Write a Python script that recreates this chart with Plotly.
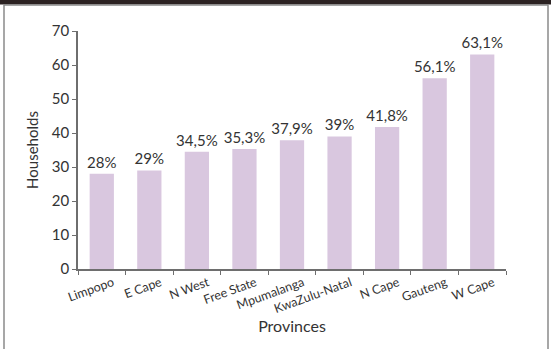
import plotly.graph_objects as go

provinces = ["Limpopo", "E Cape", "N West", "Free State", "Mpumalanga",
             "KwaZulu-Natal", "N Cape", "Gauteng", "W Cape"]
households = [28, 29, 34.5, 35.3, 37.9, 39, 41.8, 56.1, 63.1]
labels = ["28%", "29%", "34,5%", "35,3%", "37,9%", "39%", "41,8%", "56,1%", "63,1%"]

W, H = 551, 349
L, R, T, B = 78, 45, 31, 80
pw, ph = W - L - R, H - T - B

def px(x):
    return (x - L) / pw

def py(y):
    return (H - B - y) / ph

FONT = "Lato"
TXT = "#333333"
AX = "#6e6e6e"

fig = go.Figure(go.Bar(
    x=provinces, y=households, text=labels, textposition="outside",
    textfont=dict(size=15, color=TXT, family=FONT),
    constraintext="none",
    marker=dict(color="#d9c7df", line=dict(width=0)),
    cliponaxis=False, width=0.51,
))

fig.update_layout(
    width=W, height=H,
    margin=dict(l=L, r=R, t=T, b=B, pad=0, autoexpand=False),
    paper_bgcolor="white", plot_bgcolor="white",
    showlegend=False,
    font=dict(family=FONT, color=TXT, size=13),
    xaxis=dict(
        automargin=False,
        tickangle=-20, tickson="boundaries", ticks="outside", ticklen=4,
        tickcolor=AX, showline=True, linecolor=AX, linewidth=1.5,
        tickfont=dict(size=12.5, color=TXT),
        ticklabelshift=11, ticklabelstandoff=0,
        title=dict(text="Provinces", font=dict(size=16, color=TXT), standoff=4),
        showgrid=False,
    ),
    yaxis=dict(
        automargin=False,
        range=[0, 70], dtick=10, ticks="outside", ticklen=4, tickcolor=AX,
        showline=True, linecolor=AX, linewidth=1.5, showgrid=False,
        zeroline=False,
        tickfont=dict(size=15, color=TXT),
        title=dict(text="Households", font=dict(size=15, color=TXT), standoff=10),
    ),
    shapes=[
        dict(type="line", xref="paper", yref="paper",
             x0=px(0), x1=px(W), y0=py(2), y1=py(2),
             line=dict(color="#2b2222", width=5), layer="above"),
        dict(type="line", xref="paper", yref="paper",
             x0=px(4), x1=px(548), y0=py(5), y1=py(5),
             line=dict(color="#8a8a8a", width=1.5)),
        dict(type="line", xref="paper", yref="paper",
             x0=px(4), x1=px(4), y0=py(5), y1=py(H),
             line=dict(color="#8a8a8a", width=1.5)),
        dict(type="line", xref="paper", yref="paper",
             x0=px(548), x1=px(548), y0=py(5), y1=py(H),
             line=dict(color="#8a8a8a", width=1.5)),
    ],
)

fig.write_html("out.html")
